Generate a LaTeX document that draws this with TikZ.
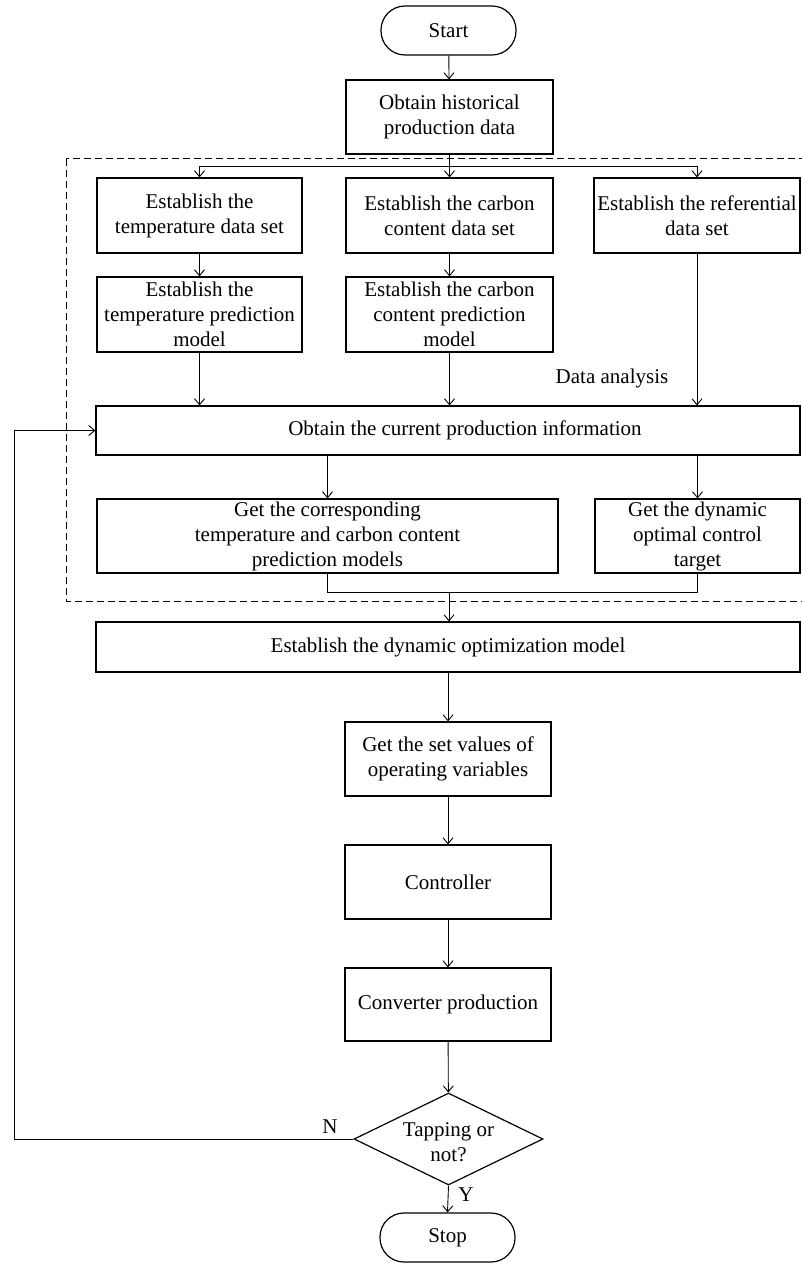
\documentclass[tikz,border=0pt]{standalone}
\usepackage{fontspec}
\setmainfont{Liberation Serif}
\usetikzlibrary{shapes.geometric,arrows.meta}
\begin{document}
\begin{tikzpicture}[x=1pt,y=-1pt,
  txt/.style={font=\fontsize{21}{25}\selectfont},
  box/.style={draw, line width=1.2pt, align=center, inner sep=0pt, txt},
  term/.style={box, rounded corners=24pt, minimum width=135pt, minimum height=49pt},
  arr/.style={line width=0.9pt, -{Straight Barb[length=6pt,width=10pt,line width=0.9pt]}},
  ln/.style={line width=0.9pt},
  lbl/.style={txt, inner sep=0pt}]
\useasboundingbox (0,0) rectangle (801,1265);
% dashed frame
\draw[line width=1pt, dash pattern=on 7pt off 4pt] (66,159) rectangle (830,601);
% nodes
\node[term] (start) at (448.5,30.5) {Start};
\node[box, minimum width=207pt, minimum height=74pt] (hist) at (449.5,117) {Obtain historical\\production data};
\node[box, minimum width=205pt, minimum height=75pt] (a1) at (199.5,215.5) {Establish the\\temperature data set};
\node[box, minimum width=207pt, minimum height=75pt] (b1) at (449.5,215.5) {Establish the carbon\\content data set};
\node[box, minimum width=206pt, minimum height=75pt] (c1) at (697,215.5) {Establish the referential\\data set};
\node[box, minimum width=205pt, minimum height=75pt] (a2) at (199.5,314.5) {Establish the\\temperature prediction\\model};
\node[box, minimum width=207pt, minimum height=75pt] (b2) at (449.5,314.5) {Establish the carbon\\content prediction\\model};
\node[lbl] (da) at (612,378) {Data analysis};
\node[box, minimum width=704pt, minimum height=49pt] (cur) at (448,430.5) {\hspace*{34pt}Obtain the current production information};
\node[box, minimum width=461pt, minimum height=74pt] (d) at (327.5,536) {Get the corresponding\\temperature and carbon content\\prediction models};
\node[box, minimum width=205pt, minimum height=74pt] (e) at (697.5,536) {Get the dynamic\\optimal control\\target};
\node[box, minimum width=704pt, minimum height=50pt] (dyn) at (448,647) {Establish the dynamic optimization model};
\node[box, minimum width=206pt, minimum height=74pt] (set) at (448,759) {Get the set values of\\operating variables};
\node[box, minimum width=206pt, minimum height=74pt] (ctrl) at (448,882) {Controller};
\node[box, minimum width=206pt, minimum height=73pt] (conv) at (448,1004.5) {Converter production};
\node[draw, line width=1.2pt, diamond, minimum width=189pt, minimum height=92pt, inner sep=0pt] (dia) at (448.5,1139) {};
\node[lbl, align=center] (diat) at (448.5,1142) {Tapping or\\not?};
\node[term] (stop) at (447.5,1237.5) {Stop};
\node[lbl] (nl) at (330,1127) {N};
\node[lbl] (yl) at (466,1195) {Y};
% connectors
\draw[arr] (start) -- (hist);
\coordinate (split) at (449.5,166);
\draw[ln] (hist.south) -- (split);
\draw[arr] (split) -| (a1.north);
\draw[arr] (split) -| (c1.north);
\draw[arr] (split) -- (b1.north);
\draw[arr] (a1) -- (a2);
\draw[arr] (b1) -- (b2);
\draw[arr] (a2.south) -- (a2.south |- cur.north);
\draw[arr] (b2.south) -- (b2.south |- cur.north);
\draw[arr] (c1.south) -- (c1.south |- cur.north);
\draw[arr] (d.north |- cur.south) -- (d.north);
\draw[arr] (e.north |- cur.south) -- (e.north);
\coordinate (merge) at (449,592);
\draw[ln] (d.south) -- (d.south |- merge) -- (e.south |- merge) -- (e.south);
\draw[arr] (merge) -- (merge |- dyn.north);
\draw[arr] (dyn) -- (set);
\draw[arr] (set) -- (ctrl);
\draw[arr] (ctrl) -- (conv);
\draw[arr] (conv) -- (dia);
\coordinate (fb) at (14,1139);
\draw[arr] (dia.west) -- (fb) |- (cur.west);
\draw[arr] (dia.south) -- (stop.north);
\end{tikzpicture}
\end{document}
